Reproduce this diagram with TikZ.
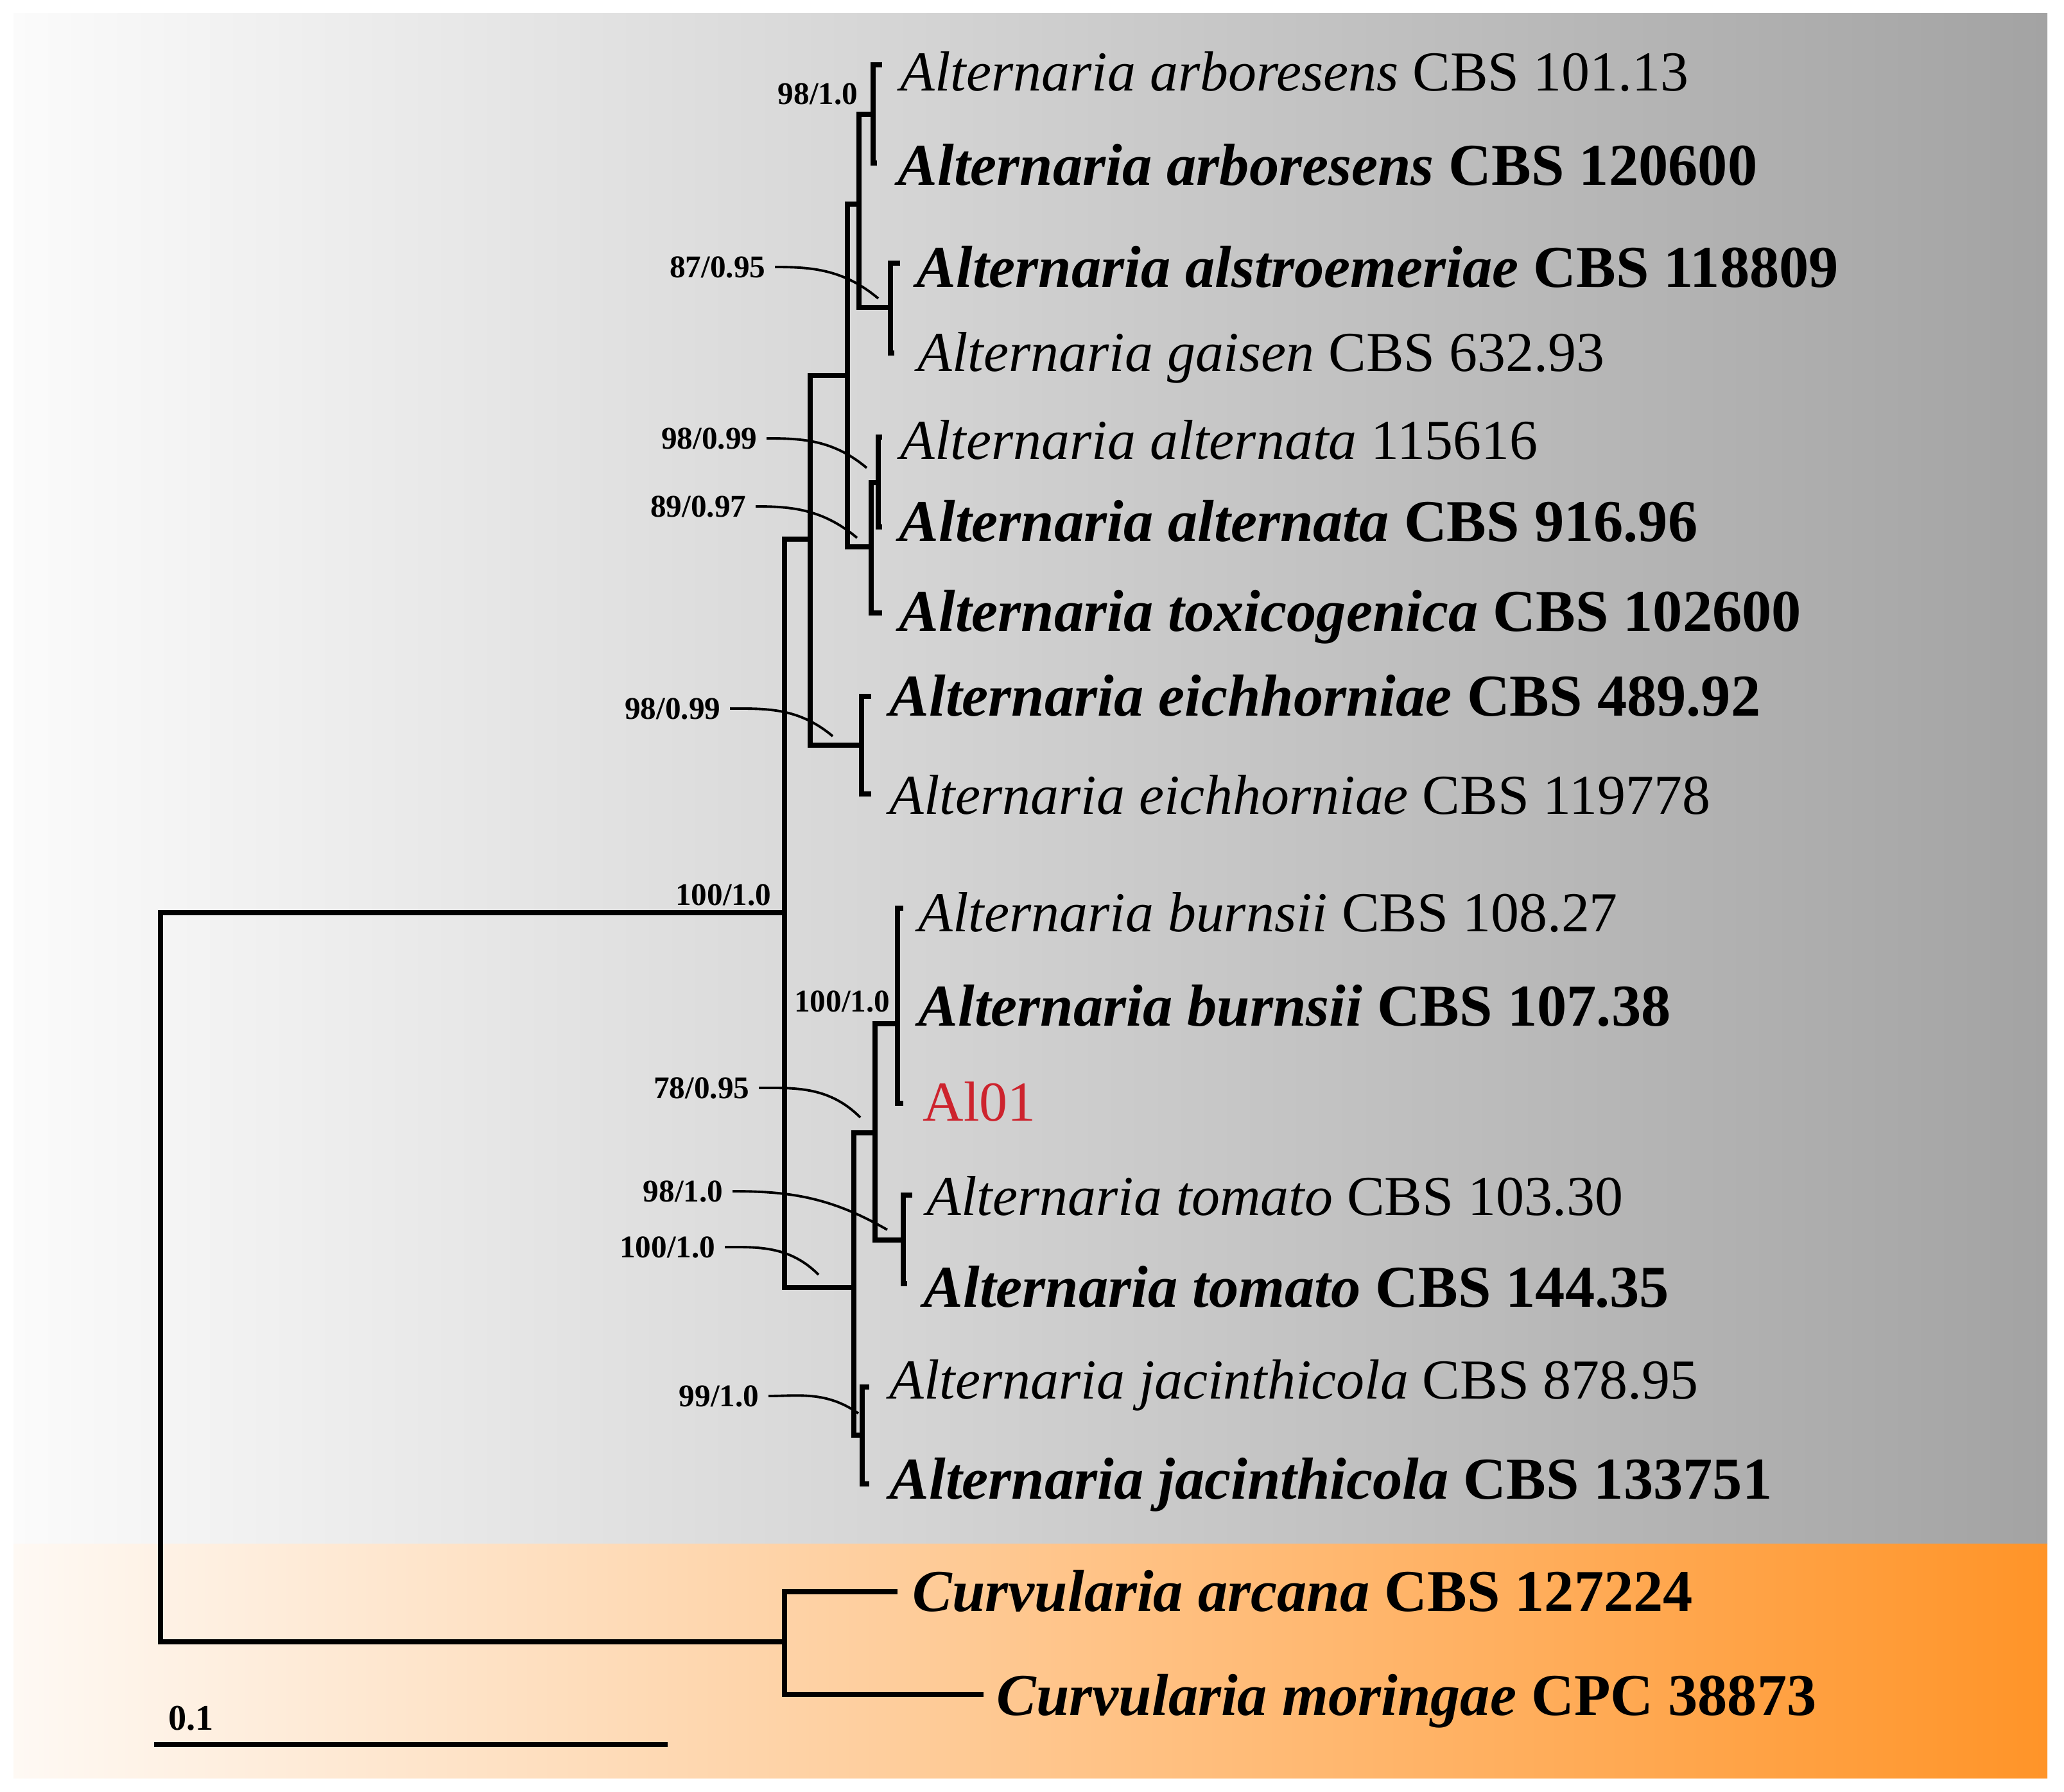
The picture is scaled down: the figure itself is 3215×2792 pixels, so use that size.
\documentclass[tikz,border=0pt]{standalone}
\usepackage{fontspec}
\setmainfont{Liberation Serif}
\definecolor{gL}{RGB}{251,251,251}
\definecolor{gM}{RGB}{214,214,214}
\definecolor{gR}{RGB}{163,163,163}
\definecolor{oL}{RGB}{254,249,244}
\definecolor{oM}{RGB}{255,200,146}
\definecolor{oR}{RGB}{255,148,40}
\definecolor{alred}{RGB}{205,35,45}
\tikzset{
  br/.style={line width=2.3pt, line join=miter, line cap=rect},
  lead/.style={line width=1.1pt, shorten <=4pt},
  tax/.style={anchor=base west, inner sep=0pt, font=\fontsize{25}{30}\selectfont},
  taxb/.style={anchor=base west, inner sep=0pt, font=\bfseries\fontsize{26.3}{31}\selectfont},
  supl/.style={anchor=east, inner sep=0pt, font=\bfseries\fontsize{14}{16}\selectfont},
}
\begin{document}
\begin{tikzpicture}[x=0.01cm, y=-0.01cm]
\useasboundingbox (0,0) rectangle (3215,2792);
\fill[white] (0,0) rectangle (3215,2792);
% backgrounds
\shade[left color=gL, middle color=gM, right color=gR] (21,21) rectangle (3189,2405);
\shade[left color=oL, middle color=oM, right color=oR] (21,2405) rectangle (3189,2770);

% internal nodes
\coordinate (root)  at (250,1990);
\coordinate (nA)    at (1222,1422);
\coordinate (nC)    at (1222,2558);
\coordinate (nB1)   at (1262,840);
\coordinate (nB2)   at (1320,585);
\coordinate (nB3)   at (1338,318);
\coordinate (nArb)  at (1360,178);
\coordinate (nAls)  at (1387,479);
\coordinate (nB4)   at (1357,852);
\coordinate (nAlt)  at (1368,752);
\coordinate (nEich) at (1342,1161);
\coordinate (nD)    at (1330,2006);
\coordinate (nE)    at (1363,1765);
\coordinate (nBurn) at (1398,1595);
\coordinate (nTom)  at (1407,1932);
\coordinate (nJac)  at (1343,2236);
% tips
\coordinate (t1)  at (1370,101);
\coordinate (t2)  at (1362,254);
\coordinate (t3)  at (1398,410);
\coordinate (t4)  at (1389,550);
\coordinate (t5)  at (1370,681);
\coordinate (t6)  at (1370,821);
\coordinate (t7)  at (1370,955);
\coordinate (t8)  at (1353,1085);
\coordinate (t9)  at (1353,1237);
\coordinate (t10) at (1403,1415);
\coordinate (t11) at (1398,1567);
\coordinate (t12) at (1403,1719);
\coordinate (t13) at (1417,1862);
\coordinate (t14) at (1409,2000);
\coordinate (t15) at (1350,2161);
\coordinate (t16) at (1350,2312);
\coordinate (t17) at (1394,2480);
\coordinate (t18) at (1528,2640);

% branches
\draw[br] (root) |- (nA);  \draw[br] (root) |- (nC);
\draw[br] (nA) |- (nB1);   \draw[br] (nA) |- (nD);
\draw[br] (nB1) |- (nB2);  \draw[br] (nB1) |- (nEich);
\draw[br] (nB2) |- (nB3);  \draw[br] (nB2) |- (nB4);
\draw[br] (nB3) |- (nArb); \draw[br] (nB3) |- (nAls);
\draw[br] (nArb) |- (t1);  \draw[br] (nArb) |- (t2);
\draw[br] (nAls) |- (t3);  \draw[br] (nAls) |- (t4);
\draw[br] (nB4) |- (nAlt); \draw[br] (nB4) |- (t7);
\draw[br] (nAlt) |- (t5);  \draw[br] (nAlt) |- (t6);
\draw[br] (nEich) |- (t8); \draw[br] (nEich) |- (t9);
\draw[br] (nD) |- (nE);    \draw[br] (nD) |- (nJac);
\draw[br] (nE) |- (nBurn); \draw[br] (nE) |- (nTom);
\draw[br] (nBurn) |- (t10); \draw[br] (nBurn) |- (t11); \draw[br] (nBurn) |- (t12);
\draw[br] (nTom) |- (t13); \draw[br] (nTom) |- (t14);
\draw[br] (nJac) |- (t15); \draw[br] (nJac) |- (t16);
\draw[br] (nC) |- (t17);   \draw[br] (nC) |- (t18);

% taxon labels
\node[tax]  (l1)  at (1402,142)  {\textit{Alternaria arboresens} CBS 101.13};
\node[taxb] (l2)  at (1398,289)  {\textit{Alternaria arboresens} CBS 120600};
\node[taxb] (l3)  at (1427,448)  {\textit{Alternaria alstroemeriae} CBS 118809};
\node[tax]  (l4)  at (1429,579)  {\textit{Alternaria gaisen} CBS 632.93};
\node[tax]  (l5)  at (1402,716)  {\textit{Alternaria alternata} 115616};
\node[taxb] (l6)  at (1400,844)  {\textit{Alternaria alternata} CBS 916.96};
\node[taxb] (l7)  at (1400,984)  {\textit{Alternaria toxicogenica} CBS 102600};
\node[taxb] (l8)  at (1385,1116) {\textit{Alternaria eichhorniae} CBS 489.92};
\node[tax]  (l9)  at (1385,1268) {\textit{Alternaria eichhorniae} CBS 119778};
\node[tax]  (l10) at (1430,1451) {\textit{Alternaria burnsii} CBS 108.27};
\node[taxb] (l11) at (1430,1598) {\textit{Alternaria burnsii} CBS 107.38};
\node[tax, text=alred] (l12) at (1437,1746) {Al01};
\node[tax]  (l13) at (1443,1893) {\textit{Alternaria tomato} CBS 103.30};
\node[taxb] (l14) at (1438,2036) {\textit{Alternaria tomato} CBS 144.35};
\node[tax]  (l15) at (1385,2179) {\textit{Alternaria jacinthicola} CBS 878.95};
\node[taxb] (l16) at (1385,2335) {\textit{Alternaria jacinthicola} CBS 133751};
\node[taxb] (l17) at (1421,2510) {\textit{Curvularia arcana} CBS 127224};
\node[taxb] (l18) at (1552,2672) {\textit{Curvularia moringae} CPC 38873};

% support values
\node[supl] (s1)  at (1337,146)  {98/1.0};
\node[supl] (s2)  at (1193,416)  {87/0.95};
\node[supl] (s3)  at (1180,683)  {98/0.99};
\node[supl] (s4)  at (1163,789)  {89/0.97};
\node[supl] (s5)  at (1123,1104) {98/0.99};
\node[supl] (s6)  at (1202,1394) {100/1.0};
\node[supl] (s7)  at (1387,1560) {100/1.0};
\node[supl] (s8)  at (1168,1695) {78/0.95};
\node[supl] (s9)  at (1127,1856) {98/1.0};
\node[supl] (s10) at (1115,1943) {100/1.0};
\node[supl] (s11) at (1183,2175) {99/1.0};

% leader ends
\coordinate (e2)  at (1368,465);
\coordinate (e3)  at (1350,729);
\coordinate (e4)  at (1335,838);
\coordinate (e5)  at (1297,1147);
\coordinate (e8)  at (1340,1741);
\coordinate (e9)  at (1382,1916);
\coordinate (e10) at (1275,1986);
\coordinate (e11) at (1337,2202);
\draw[lead] (s2.east)  to[out=0, in=140] (e2);
\draw[lead] (s3.east)  to[out=0, in=140] (e3);
\draw[lead] (s4.east)  to[out=0, in=140] (e4);
\draw[lead] (s5.east)  to[out=0, in=140] (e5);
\draw[lead] (s8.east)  to[out=0, in=135] (e8);
\draw[lead] (s9.east)  to[out=0, in=150] (e9);
\draw[lead] (s10.east) to[out=0, in=135] (e10);
\draw[lead] (s11.east) to[out=0, in=145] (e11);

% scale bar
\coordinate (sb1) at (240,2718);
\coordinate (sb2) at (1040,2718);
\draw[line width=2.3pt] (sb1) -- (sb2);
\node[anchor=base west, inner sep=0pt, font=\bfseries\fontsize{16}{18}\selectfont] (sbl) at (262,2695) {0.1};
\end{tikzpicture}
\end{document}
